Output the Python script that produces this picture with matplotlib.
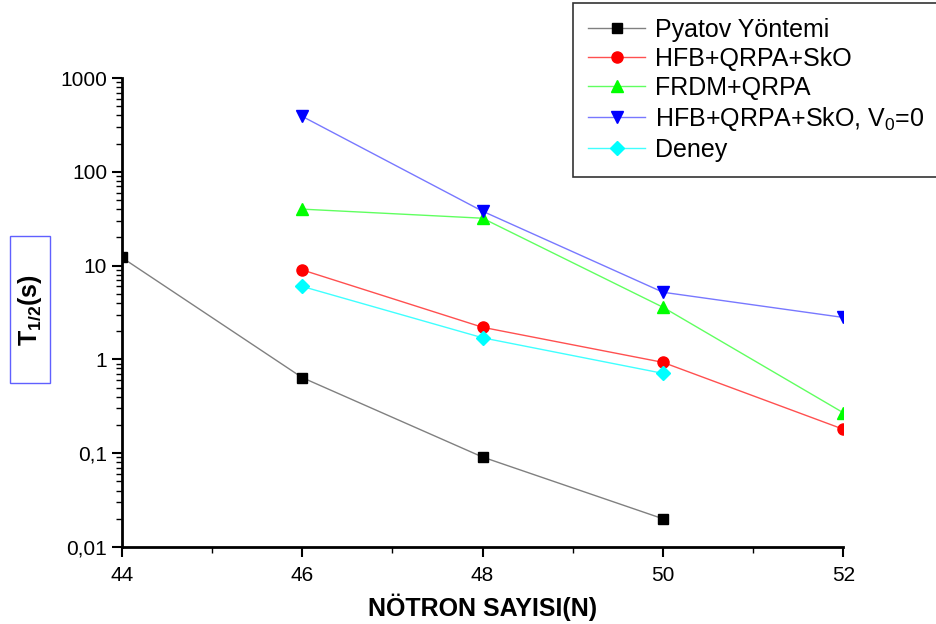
import matplotlib
matplotlib.use("Agg")
import matplotlib.pyplot as plt
from matplotlib.patches import Rectangle
from matplotlib.ticker import FixedLocator, LogLocator, NullFormatter

plt.rcParams['font.family'] = ['Liberation Sans', 'DejaVu Sans']
plt.rcParams['mathtext.fontset'] = 'custom'
plt.rcParams['mathtext.rm'] = 'Liberation Sans'
plt.rcParams['mathtext.bf'] = 'Liberation Sans:bold'

# veriler
n_pyatov = [44, 46, 48, 50]
t_pyatov = [12.2, 0.64, 0.091, 0.020]
n_hfb = [46, 48, 50, 52]
t_hfb = [9.0, 2.2, 0.93, 0.18]
n_frdm = [46, 48, 50, 52]
t_frdm = [40, 32, 3.6, 0.27]
n_v0 = [46, 48, 50, 52]
t_v0 = [390, 38, 5.2, 2.8]
n_deney = [46, 48, 50]
t_deney = [6.0, 1.7, 0.71]

y_ticks = [0.01, 0.1, 1, 10, 100, 1000]
y_labels = ['0,01', '0,1', '1', '10', '100', '1000']
x_ticks = [44, 46, 48, 50, 52]

fig = plt.figure(figsize=(9.37, 6.24), dpi=100)
ax = fig.add_axes((0.130, 0.1234, 0.77, 0.7516))

ax.plot(n_pyatov, t_pyatov, color='#808080', lw=1, marker='s', ms=7,
        mfc='black', mec='black', label='Pyatov Yöntemi')
ax.plot(n_hfb, t_hfb, color='#ff5050', lw=1, marker='o', ms=8,
        mfc='red', mec='red', label='HFB+QRPA+SkO')
ax.plot(n_frdm, t_frdm, color='#60ff60', lw=1, marker='^', ms=9,
        mfc='#00ff00', mec='#00ff00', label='FRDM+QRPA')
ax.plot(n_v0, t_v0, color='#7878ff', lw=1, marker='v', ms=9,
        mfc='blue', mec='blue', label=r'HFB+QRPA+SkO, V$_0$=0')
ax.plot(n_deney, t_deney, color='#40ffff', lw=1, marker='D', ms=7,
        mfc='cyan', mec='cyan', label='Deney')

ax.set_yscale('log')
ax.set_ylim(0.01, 1000)
ax.set_xlim(44, 52)
ax.yaxis.set_major_locator(FixedLocator(y_ticks))
ax.set_yticklabels(y_labels)
ax.yaxis.set_minor_locator(LogLocator(base=10, subs=range(2, 10)))
ax.yaxis.set_minor_formatter(NullFormatter())
ax.set_xticks(x_ticks)
ax.set_xticks([45, 47, 49, 51], minor=True)

for s in ['top', 'right']:
    ax.spines[s].set_visible(False)
for s in ['left', 'bottom']:
    ax.spines[s].set_linewidth(2)
ax.tick_params(which='major', direction='out', length=7, width=1.5, labelsize=15)
ax.tick_params(which='minor', direction='out', length=4, width=1)
ax.tick_params(axis='x', pad=7)

ax.set_xlabel('NÖTRON SAYISI(N)', fontsize=18, fontweight='bold', labelpad=6)

# y ekseni basligi, mavi kutu icinde
fig.patches.append(Rectangle((0.0107, 0.386), 0.0427, 0.2356, transform=fig.transFigure,
                             fill=False, ec='#6060ff', lw=1))
fig.text(0.032, 0.503, r'$\mathbf{T_{1/2}(s)}$', fontsize=18, rotation=90,
         ha='center', va='center')

leg = fig.legend(loc='upper left', bbox_to_anchor=(0.6115, 0.995), fontsize=18,
                 frameon=True, fancybox=False, edgecolor='black',
                 handlelength=2.3, borderpad=0.6, labelspacing=0.2,
                 handletextpad=0.4, borderaxespad=0)
leg.get_frame().set_linewidth(1.2)

fig.savefig('out.png', dpi=100)
